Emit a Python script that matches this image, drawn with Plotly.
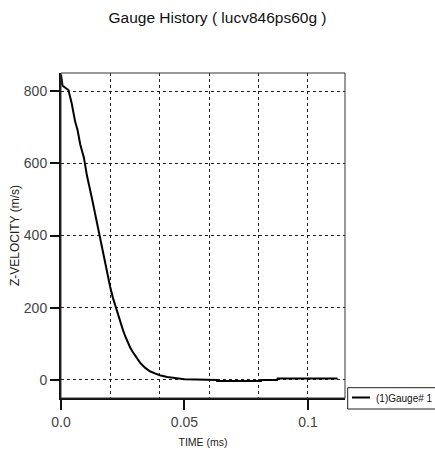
import plotly.graph_objects as go

# Data (TIME in ms, Z-VELOCITY in m/s)
time_ms = [0.0, 0.0003, 0.0006, 0.0016, 0.0030, 0.0043, 0.0057, 0.0067, 0.0078,
           0.0093, 0.0105, 0.0125, 0.0138, 0.0154, 0.0179, 0.0199, 0.0210,
           0.0220, 0.0230, 0.0240, 0.0250, 0.0260, 0.0270, 0.0280, 0.0290,
           0.0300, 0.0320, 0.0340, 0.0360, 0.0380, 0.0400, 0.0430, 0.0460,
           0.0500, 0.0550, 0.0630, 0.0632, 0.0810, 0.0812, 0.0875, 0.0877,
           0.1120]
z_velocity = [846, 828, 815, 810, 803, 767, 716, 692, 652,
              615, 566, 504, 460, 407, 322, 258, 228,
              205, 182, 160, 140, 121, 104, 90, 78,
              67, 48, 34, 24, 18, 13, 8, 5,
              2, 1, 0, -3, -3, 0, 0, 4,
              4]

series_name = "(1)Gauge# 1"
x_tickvals = [0.0, 0.05, 0.1]
x_ticktext = ["0.0", "0.05", "0.1"]

FONT = "Liberation Sans, Arial, sans-serif"
GRID = dict(gridcolor="#222", gridwidth=1, griddash="3px,3px")

W, H = 435, 453
ML, MR, MT, MB = 61, 90, 73, 55
PW, PH = W - ML - MR, H - MT - MB


def px_x(px):
    return (px - ML) / PW


def px_y(py):
    return (H - MB - py) / PH


fig = go.Figure()
fig.add_trace(go.Scatter(x=time_ms, y=z_velocity, mode="lines", name=series_name,
                         line=dict(color="black", width=2), showlegend=False))

fig.update_layout(
    width=W, height=H,
    margin=dict(l=ML, r=MR, t=MT, b=MB, autoexpand=False),
    paper_bgcolor="white", plot_bgcolor="white",
    font=dict(family=FONT, color="#222"),
    title=dict(text="Gauge History ( lucv846ps60g )", x=0.5, xanchor="center",
               y=1 - 18 / H, yanchor="middle", yref="container",
               font=dict(size=15.5, color="#111", family=FONT)),
    showlegend=False,
)

fig.update_xaxes(
    range=[0, 0.115], tickmode="array", tickvals=x_tickvals, ticktext=x_ticktext,
    ticks="outside", ticklen=10, tickwidth=2, tickcolor="#111",
    tickfont=dict(size=14, color="#444", family=FONT),
    showgrid=False, zeroline=False,
    showline=True, linecolor="#111", linewidth=2,
    minor=dict(tickmode="linear", tick0=0, dtick=0.02, showgrid=True, ticks="", **GRID),
    title=dict(text="TIME (ms)", font=dict(size=10.5, color="#222", family=FONT), standoff=10),
)
fig.update_yaxes(
    range=[-50, 850], tickmode="linear", tick0=0, dtick=200,
    ticks="outside", ticklen=9, tickwidth=2, tickcolor="#111",
    tickfont=dict(size=14, color="#444", family=FONT),
    showgrid=True, zeroline=False, **GRID,
    showline=True, linecolor="#111", linewidth=2,
    title=dict(text="Z-VELOCITY (m/s)", font=dict(size=12, color="#222", family=FONT), standoff=2),
)

# thin frame on top / right sides
fig.add_shape(type="rect", xref="paper", yref="paper", x0=0, y0=0, x1=1, y1=1,
              line=dict(color="#333", width=1), layer="above")

# legend box (drawn like the original, right of the plot)
fig.add_shape(type="rect", xref="paper", yref="paper",
              x0=px_x(347.7), x1=px_x(437), y0=px_y(409), y1=px_y(387.7),
              line=dict(color="#222", width=1), fillcolor="white")
fig.add_shape(type="line", xref="paper", yref="paper",
              x0=px_x(352), x1=px_x(370), y0=px_y(397.5), y1=px_y(397.5),
              line=dict(color="black", width=2))
fig.add_annotation(text=series_name, xref="paper", yref="paper",
                   x=px_x(374), y=px_y(398), xanchor="left", yanchor="middle",
                   showarrow=False, font=dict(size=10, color="#111", family=FONT))

fig.write_html("out.html")
